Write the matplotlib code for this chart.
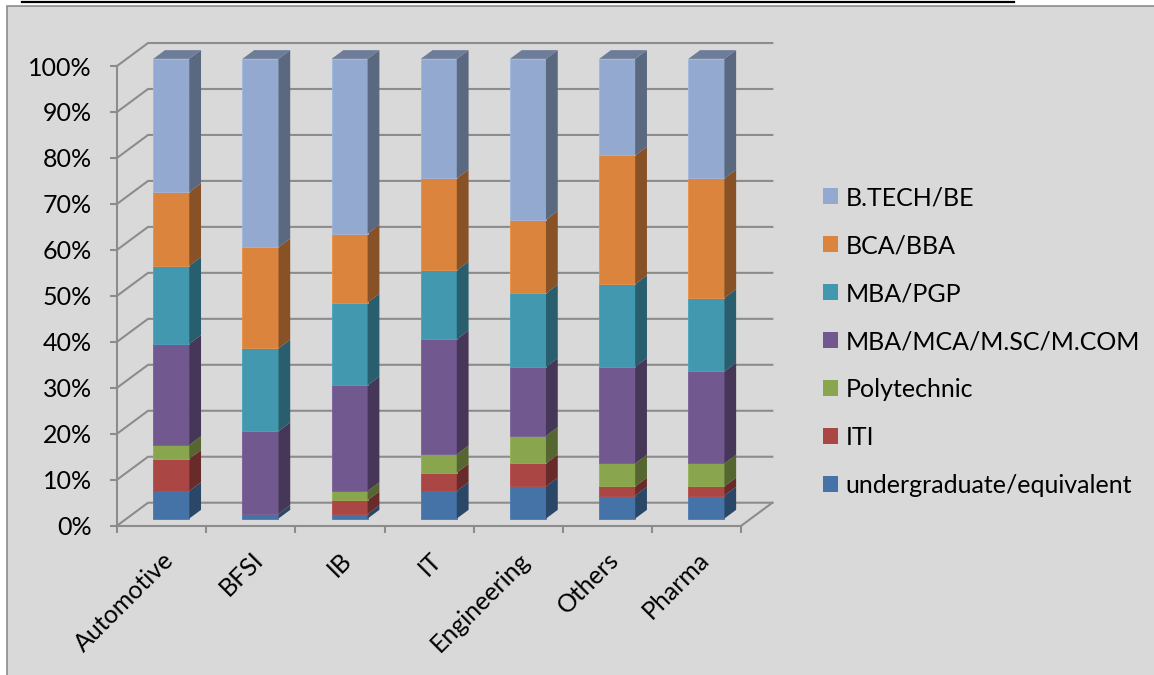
import numpy as np
import matplotlib.pyplot as plt
from matplotlib.patches import Polygon, Patch, Rectangle
from matplotlib.lines import Line2D
from matplotlib.colors import to_rgb

plt.rcParams['font.family'] = ['Lato', 'DejaVu Sans']

categories = ['Automotive', 'BFSI', 'IB', 'IT', 'Engineering', 'Others', 'Pharma']

# qualification share per sector (%), bottom to top of each stack
undergrad = [6, 1, 1, 6, 7, 5, 5]
iti = [7, 0, 3, 4, 5, 2, 2]
polytechnic = [3, 0, 2, 4, 6, 5, 5]
mba_mca = [22, 18, 23, 25, 15, 21, 20]
mba_pgp = [17, 18, 18, 15, 16, 18, 16]
bca_bba = [16, 22, 15, 20, 16, 28, 26]
btech = [29, 41, 38, 26, 35, 21, 26]

series_names = ['undergraduate/equivalent', 'ITI', 'Polytechnic', 'MBA/MCA/M.SC/M.COM',
                'MBA/PGP', 'BCA/BBA', 'B.TECH/BE']
series_colors = ['#4572A7', '#AA4643', '#89A54E', '#71588F', '#4198AF', '#DB843D', '#93A9CF']

data = np.array([undergrad, iti, polytechnic, mba_mca, mba_pgp, bca_bba, btech], dtype=float)
data = data / data.sum(axis=0) * 100

def shade(c, k):
    r, g, b = to_rgb(c)
    return (r * k, g * k, b * k)

W, H = 1154, 675
FS = 18
fig = plt.figure(figsize=(W / 100, H / 100), dpi=100)
fig.patch.set_facecolor('white')

# chart area box and the rule above it
fig.patches.append(Rectangle((7 / W, -0.1), 1.2, (H - 6) / H + 0.1, transform=fig.transFigure,
                             facecolor='#d9d9d9', edgecolor='#8c8c8c', lw=1.2, zorder=-5))
fig.lines.append(Line2D([22 / W, 1014 / W], [1 - 1.5 / H, 1 - 1.5 / H], transform=fig.transFigure,
                        color='black', lw=1.6, zorder=-4))

ax = fig.add_axes([117 / W, (H - 525.7) / H, 624.3 / W, 459.7 / H])
ax.set_xlim(0, 7)
ax.set_ylim(0, 100)
ax.patch.set_visible(False)

grid_c = '#8c8c8c'
DX, DY = 0.348, 5.0  # projection of the full depth of the floor

# back wall and left wall gridlines
for y in range(0, 101, 10):
    ax.plot([0, DX, 7 + DX], [y, y + DY, y + DY], color=grid_c, lw=1.5, clip_on=False,
            solid_joinstyle='miter', zorder=1)
# right edge of the floor
ax.plot([7, 7 + DX], [0, DY], color=grid_c, lw=1.5, clip_on=False, zorder=1)

for s in ['top', 'right']:
    ax.spines[s].set_visible(False)
for s in ['left', 'bottom']:
    ax.spines[s].set_color(grid_c)
    ax.spines[s].set_linewidth(1.5)

ax.set_yticks(range(0, 101, 10))
ax.set_yticklabels([f'{v}%' for v in range(0, 101, 10)])
ax.tick_params(axis='y', length=5, width=1.5, color=grid_c, pad=13, labelsize=FS)
ax.set_xticks(range(0, 8), minor=True)
ax.tick_params(axis='x', which='minor', length=5, width=1.5, color=grid_c)
ax.set_xticks(np.arange(7) + 0.5)
ax.set_xticklabels(categories, rotation=45, ha='right', rotation_mode='anchor')
ax.tick_params(axis='x', which='major', length=0, pad=16, labelsize=FS)

# 3-D columns: front face from ax.bar, side and top faces as parallelograms
bw = 0.404
f0 = 0.31
depth = 0.38
ddx, ddy = depth * DX, depth * DY
x = np.arange(len(categories)) + 0.5 + f0 * DX
bottom = np.zeros(len(categories))
for vals, col in zip(data, series_colors):
    ax.bar(x, vals, width=bw, bottom=bottom + f0 * DY, color=col, clip_on=False, zorder=3,
           edgecolor=shade(col, 1.08), linewidth=0.6)
    for xi, b, v in zip(x, bottom, vals):
        if v <= 0:
            continue
        xr = xi + bw / 2
        y0, y1 = b + f0 * DY, b + v + f0 * DY
        ax.add_patch(Polygon([(xr, y0), (xr, y1), (xr + ddx, y1 + ddy), (xr + ddx, y0 + ddy)],
                             closed=True, facecolor=shade(col, 0.62), edgecolor='none',
                             clip_on=False, zorder=3))
    bottom = bottom + vals

top_col = shade(series_colors[-1], 0.74)
for xi, b in zip(x, bottom):
    xl, xr = xi - bw / 2, xi + bw / 2
    yt = b + f0 * DY
    ax.add_patch(Polygon([(xl, yt), (xr, yt), (xr + ddx, yt + ddy), (xl + ddx, yt + ddy)],
                         closed=True, facecolor=top_col, edgecolor='none',
                         clip_on=False, zorder=3))

handles = [Patch(facecolor=c, edgecolor='none', label=n)
           for n, c in zip(series_names[::-1], series_colors[::-1])]
fig.legend(handles=handles, loc='upper left', bbox_to_anchor=(823 / W, 1 - 186 / H),
           frameon=False, fontsize=FS, handlelength=0.6, handleheight=0.6,
           handletextpad=0.3, labelspacing=1.0, borderaxespad=0, borderpad=0)

fig.savefig('out.png', dpi=100)
